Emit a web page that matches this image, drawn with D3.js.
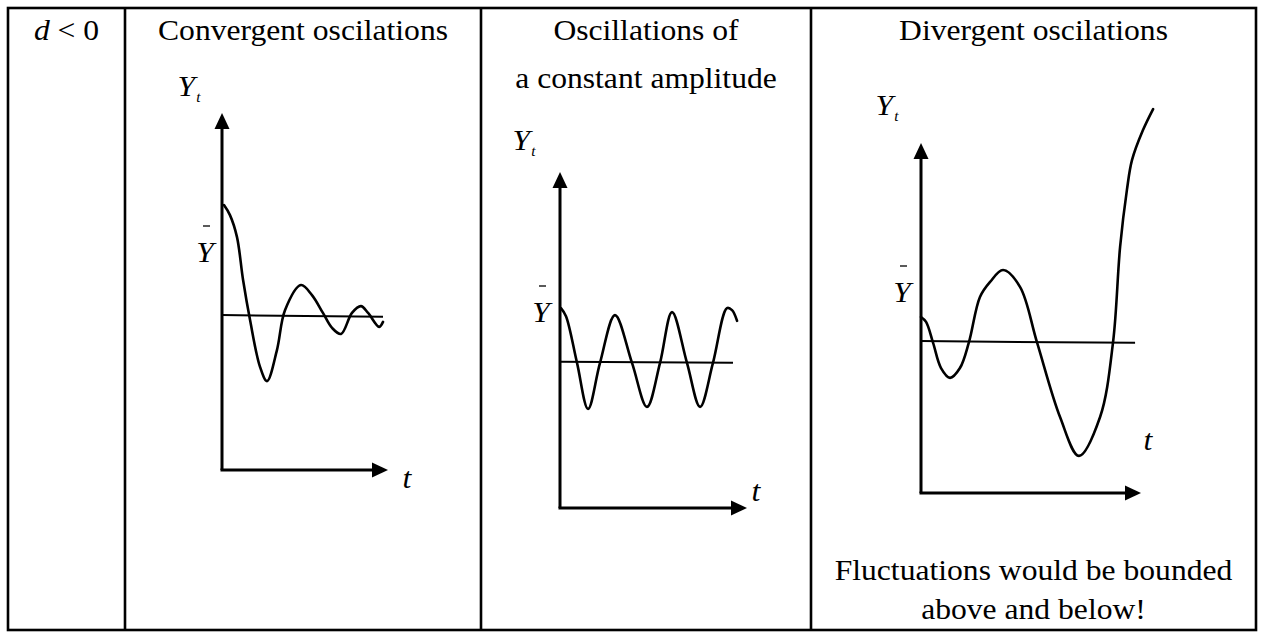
<!DOCTYPE html>
<html>
<head>
<meta charset="utf-8">
<script src="https://cdn.jsdelivr.net/npm/d3@7"></script>
<style>
  html, body { margin: 0; padding: 0; background: #fff; }
  svg { display: block; }
  text { font-family: "Liberation Serif", "Times New Roman", serif; fill: #000; }
</style>
</head>
<body>
<svg id="chart"></svg>
<script>
// column captions
const conditionLabel = ['d', ' < 0'];
const columnTitles = [['Convergent oscilations'], ['Oscillations of', 'a constant amplitude'], ['Divergent oscilations']];
const footNote = ['Fluctuations would be bounded', 'above and below!'];

// curves, t and Y in 0..100 axis units
const convergentT = [1.2, 4.8, 9.0, 12.7, 16.9, 22.9, 27.1, 33.1, 38.0, 47.6, 54.2, 60.8, 66.3, 71.7, 78.3, 83.7, 88.0, 94.6, 97.0];
const convergentY = [74.2, 71.4, 65.3, 53.2, 42.0, 28.9, 24.9, 33.6, 44.8, 51.8, 49.0, 44.0, 39.8, 38.1, 44.0, 45.9, 44.0, 40.1, 41.5];

const constantT = [0.5, 3.2, 9.1, 15.0, 21.4, 29.4, 38.5, 46.5, 53.5, 59.9, 67.9, 74.9, 81.8, 89.3, 92.0, 94.7];
const constantY = [59.5, 57.1, 43.2, 29.5, 43.2, 57.4, 43.2, 30.1, 43.2, 58.3, 43.2, 30.1, 43.2, 59.5, 58.9, 55.7];

const divergentT = [0, 2.3, 5.5, 9.1, 13.2, 17.7, 21.8, 26.8, 31.4, 37.3, 45.0, 52.7, 63.2, 71.8, 81.4, 87.3, 90.5, 93.6, 95.9, 100.9, 105.5];
const divergentY = [50.3, 48.9, 42.9, 35.7, 32.9, 35.7, 43.1, 56.0, 60.3, 63.7, 58.9, 43.1, 21.7, 10.6, 21.7, 43.1, 70.3, 86.6, 95.1, 103.7, 109.7];

// equilibrium line, start and end
const meanT = [[0, 97], [0, 92.5], [0, 97.3]];
const meanY = [[43.4, 42.9], [43.5, 43.2], [43.4, 42.9]];

const width = 1261;
const height = 632;
const fontSize = 29;
const stretch = 1.09; // source glyphs are a little wider than plain Times
const colEdges = [8, 125, 481, 811, 1256];
const tableTop = 8;
const tableBottom = 630;

const panels = [
  { t: convergentT, y: convergentY, xr: [222, 388], yr: [470, 113], yt: [189, 96], ybar: [205, 262], tl: [407, 488] },
  { t: constantT, y: constantY, xr: [560, 747], yr: [508, 172], yt: [524, 150], ybar: [541, 322], tl: [756, 501] },
  { t: divergentT, y: divergentY, xr: [921, 1141], yr: [493, 143], yt: [887, 115], ybar: [902, 302], tl: [1148, 450] }
];

const svg = d3.select('#chart').attr('width', width).attr('height', height);

function label(x, y, str, opts = {}) {
  const t = svg.append('text')
    .attr('transform', `translate(${x},${y}) scale(${stretch},1)`)
    .attr('text-anchor', opts.anchor || 'middle')
    .attr('font-size', opts.size || fontSize);
  if (opts.italic) t.attr('font-style', 'italic');
  t.text(str);
  return t;
}

// table frame
svg.append('rect')
  .attr('x', colEdges[0]).attr('y', tableTop)
  .attr('width', colEdges[4] - colEdges[0]).attr('height', tableBottom - tableTop)
  .attr('fill', 'none').attr('stroke', '#000').attr('stroke-width', 2.6);

svg.selectAll('.divider')
  .data(colEdges.slice(1, 4))
  .join('line')
  .attr('class', 'divider')
  .attr('x1', d => d).attr('x2', d => d)
  .attr('y1', tableTop).attr('y2', tableBottom)
  .attr('stroke', '#000').attr('stroke-width', 2.6);

// header
const head = label((colEdges[0] + colEdges[1]) / 2, 40, '');
head.append('tspan').attr('font-style', 'italic').text(conditionLabel[0]);
head.append('tspan').text(conditionLabel[1]);

const lineGap = 48;
columnTitles.forEach((lines, i) => {
  const cx = (colEdges[i + 1] + colEdges[i + 2]) / 2;
  lines.forEach((s, j) => label(cx, 40 + j * lineGap, s));
});

const footX = (colEdges[3] + colEdges[4]) / 2;
footNote.forEach((s, j) => label(footX, 580 + j * 39, s));

// panels
const arrowLen = 16;
const arrowHalf = 7.5;

panels.forEach((p, i) => {
  const x = d3.scaleLinear().domain([0, 100]).range(p.xr);
  const y = d3.scaleLinear().domain([0, 100]).range(p.yr);
  const g = svg.append('g');

  // axes
  g.append('line')
    .attr('x1', x(0)).attr('y1', y(0)).attr('x2', x(0)).attr('y2', y(100) + arrowLen - 1)
    .attr('stroke', '#000').attr('stroke-width', 3);
  g.append('line')
    .attr('x1', x(0) - 1.5).attr('y1', y(0)).attr('x2', x(100) - arrowLen + 1).attr('y2', y(0))
    .attr('stroke', '#000').attr('stroke-width', 3);
  g.append('path')
    .attr('d', `M${x(0)},${y(100)}L${x(0) - arrowHalf},${y(100) + arrowLen}L${x(0) + arrowHalf},${y(100) + arrowLen}Z`)
    .attr('fill', '#000');
  g.append('path')
    .attr('d', `M${x(100)},${y(0)}L${x(100) - arrowLen},${y(0) - arrowHalf}L${x(100) - arrowLen},${y(0) + arrowHalf}Z`)
    .attr('fill', '#000');

  // mean line
  const meanPts = d3.zip(meanT[i], meanY[i]);
  g.append('path')
    .attr('d', d3.line().x(d => x(d[0])).y(d => y(d[1]))(meanPts))
    .attr('fill', 'none').attr('stroke', '#000').attr('stroke-width', 2);

  // oscillation
  const pts = d3.zip(p.t, p.y);
  g.append('path')
    .attr('d', d3.line().curve(d3.curveCatmullRom.alpha(0.5)).x(d => x(d[0])).y(d => y(d[1]))(pts))
    .attr('fill', 'none').attr('stroke', '#000').attr('stroke-width', 2.6)
    .attr('stroke-linecap', 'round').attr('stroke-linejoin', 'round');

  // labels
  const yt = label(p.yt[0], p.yt[1], 'Y', { italic: true });
  yt.append('tspan').attr('font-size', 14).attr('dy', 6).attr('dx', 1).text('t');

  label(p.ybar[0], p.ybar[1], 'Y', { italic: true });
  svg.append('line')
    .attr('x1', p.ybar[0] - 2).attr('x2', p.ybar[0] + 5)
    .attr('y1', p.ybar[1] - 36).attr('y2', p.ybar[1] - 36)
    .attr('stroke', '#000').attr('stroke-width', 1.3);

  label(p.tl[0], p.tl[1], 't', { italic: true });
});
</script>
</body>
</html>
